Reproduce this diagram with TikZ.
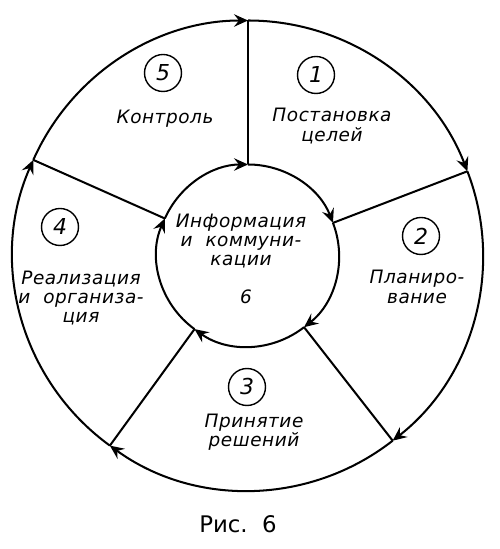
\documentclass[tikz,border=0pt]{standalone}
\usepackage{fontspec}
\setmainfont{DejaVu Sans}
\newfontfamily\draftfont[LetterSpace=3]{DejaVu Sans}
\usetikzlibrary{calc, arrows.meta}

\begin{document}
\begin{tikzpicture}[
		line width=1.15pt,
		ring/.style={circle,inner sep=0,outer sep=0},
		num/.style={circle,draw,line width=0.8pt,minimum size=0.74cm,inner sep=0,
			font=\draftfont\itshape\fontsize{12.5}{12.5}\selectfont},
		lbl/.style={align=center,inner sep=0,
			font=\draftfont\itshape\fontsize{10.5}{11}\selectfont},
		flow/.style={-{Stealth[length=2.8mm,width=2.5mm,inset=1mm]}}]
		\useasboundingbox (0,0) rectangle (10,10.98);
		\coordinate (c) at (4.96,5.87);
		\node[ring,minimum size=9.4cm]  (outer) at (c) {};
		\node[ring,minimum size=3.64cm] (inner) at (c) {};
		% outer ring, clockwise
		\draw[flow] (outer.156)  arc[start angle=156,  end angle=90,   radius=4.7cm];
		\draw[flow] (outer.90)   arc[start angle=90,   end angle=21,   radius=4.7cm];
		\draw[flow] (outer.21)   arc[start angle=21,   end angle=-52,  radius=4.7cm];
		\draw[flow] (outer.-52)  arc[start angle=-52,  end angle=-126, radius=4.7cm];
		\draw[flow] (outer.-126) arc[start angle=-126, end angle=-204, radius=4.7cm];
		% inner ring, clockwise
		\draw[flow] (inner.156)  arc[start angle=156,  end angle=90,   radius=1.82cm];
		\draw[flow] (inner.90)   arc[start angle=90,   end angle=21,   radius=1.82cm];
		\draw[flow] (inner.21)   arc[start angle=21,   end angle=-52,  radius=1.82cm];
		\draw[flow] (inner.-52)  arc[start angle=-52,  end angle=-126, radius=1.82cm];
		\draw[flow] (inner.-126) arc[start angle=-126, end angle=-204, radius=1.82cm];
		% spokes
		\draw (outer.90)   -- (inner.90);
		\draw (outer.21)   -- (inner.21);
		\draw (outer.-52)  -- (inner.-52);
		\draw (outer.-126) -- (inner.-126);
		\draw (outer.156)  -- (inner.156);
		% sectors
		\node[num] (n1) at (6.32,9.48) {1};
		\node[num] (n2) at (8.42,6.26) {2};
		\node[num] (n3) at (4.94,3.24) {3};
		\node[num] (n4) at (1.20,6.44) {4};
		\node[num] (n5) at (3.26,9.52) {5};
		\node[lbl] (goals)   at (6.64,8.46) {Постановка\\целей};
		\node[lbl] (plan)    at (8.34,5.24) {Планиро-\\вание};
		\node[lbl] (decide)  at (5.08,2.34) {Принятие\\решений};
		\node[lbl] (realize) at (1.62,5.02) {Реализация\\и~~организа-\\ция};
		\node[lbl] (control) at (3.30,8.60) {Контроль};
		\node[lbl] (info)    at (4.82,6.16) {Информация\\и~~коммуни-\\кации};
		\node[lbl] (n6)      at (4.92,5.04) {6};
		\node[font=\fontsize{13}{13}\selectfont] (fig) at (4.76,0.50) {Рис.~~6};
\end{tikzpicture}
\end{document}
